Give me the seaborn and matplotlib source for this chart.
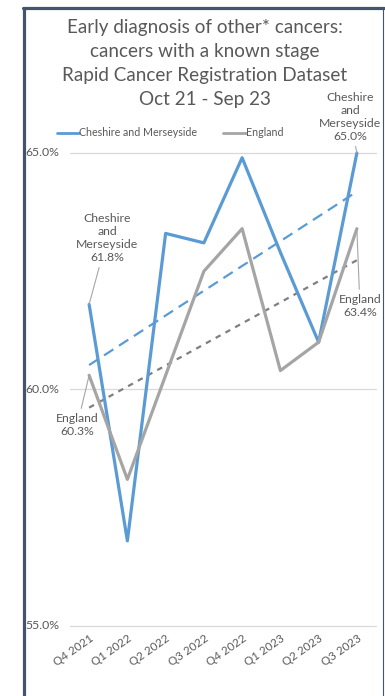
import numpy as np
import pandas as pd
import matplotlib
matplotlib.use("Agg")
import matplotlib.pyplot as plt
from matplotlib.lines import Line2D
from matplotlib import transforms
import seaborn as sns

quarters = ["Q4 2021", "Q1 2022", "Q2 2022", "Q3 2022",
            "Q4 2022", "Q1 2023", "Q2 2023", "Q3 2023"]
cheshire = [61.8, 56.8, 63.3, 63.1, 64.9, 62.9, 61.0, 65.0]
england = [60.3, 58.1, 60.3, 62.5, 63.4, 60.4, 61.0, 63.4]
y_ticks = [55.0, 60.0, 65.0]
title_lines = ["Early diagnosis of other* cancers:",
               "cancers with a known stage",
               "Rapid Cancer Registration Dataset",
               "Oct 21 - Sep 23"]

BLUE = "#5B9BD5"
GREY = "#A5A5A5"
GREY_TREND = "#7F7F7F"
TEXT = "#595959"
FONT = ["Lato", "DejaVu Sans"]

sns.set_theme(style="white")
plt.rcParams["font.family"] = FONT

df = pd.DataFrame({"idx": np.arange(len(quarters)),
                   "Cheshire and Merseyside": cheshire,
                   "England": england})

fig = plt.figure(figsize=(3.85, 6.96), dpi=100)
ax = fig.add_axes([70 / 385, 1 - 626 / 696, 306 / 385, 473 / 696])

# gridlines
for v in y_ticks:
    ax.axhline(v, color="#D9D9D9", lw=0.9, zorder=0, clip_on=False)

# linear trendlines
sns.regplot(data=df, x="idx", y="Cheshire and Merseyside", ax=ax, scatter=False,
            ci=None, color=BLUE, line_kws=dict(lw=1.6, ls=(0, (5, 3))))
sns.regplot(data=df, x="idx", y="England", ax=ax, scatter=False,
            ci=None, color=GREY_TREND, line_kws=dict(lw=1.6, ls=(0, (2.5, 2.5))))

# series
sns.lineplot(data=df, x="idx", y="Cheshire and Merseyside", ax=ax, color=BLUE,
             lw=2.3, legend=False)
sns.lineplot(data=df, x="idx", y="England", ax=ax, color=GREY, lw=2.3,
             legend=False)
for ln in ax.lines:
    ln.set_clip_on(False)

ax.set_xlim(-0.5, len(quarters) - 0.5)
ax.set_ylim(55, 65)
ax.set_xlabel("")
ax.set_ylabel("")
ax.set_xticks(range(len(quarters)))
ax.set_xticklabels(quarters, rotation=35, ha="right", rotation_mode="anchor",
                   fontsize=8.3, color=TEXT)
ax.tick_params(axis="x", length=0, pad=5)
ax.set_yticks([])
for s in ax.spines.values():
    s.set_visible(False)
ax.patch.set_alpha(0)

# y tick labels placed at the left edge of the chart frame
ylab_tr = transforms.blended_transform_factory(fig.transFigure, ax.transData)
for v in y_ticks:
    ax.text(25 / 385, v, f"{v:.1f}%", transform=ylab_tr,
            ha="left", va="center", fontsize=8.8, color=TEXT)

# data labels with leader lines
def label(txt, xy, xytext):
    ax.annotate(txt, xy=xy, xytext=xytext, textcoords="data",
                ha="center", va="center", fontsize=8.8, color=TEXT,
                linespacing=1.2, annotation_clip=False,
                arrowprops=dict(arrowstyle="-", color="#A6A6A6", lw=0.8,
                                shrinkA=1, shrinkB=0))

n = len(quarters) - 1
label(f"Cheshire\nand\nMerseyside\n{cheshire[0]:.1f}%", (0, cheshire[0]), (0.47, 63.2))
label(f"Cheshire\nand\nMerseyside\n{cheshire[n]:.1f}%", (n, cheshire[n]), (n - 0.18, 65.76))
label(f"England\n{england[0]:.1f}%", (0, england[0]), (-0.31, 59.25))
label(f"England\n{england[n]:.1f}%", (n, england[n]), (n + 0.08, 61.77))

# title, one text per line
for i, line in enumerate(title_lines):
    fig.text(205 / 385, 1 - (27 + 24 * i) / 696, line,
             ha="center", va="center", fontsize=13.6, color=TEXT)

# legend
handles = [Line2D([], [], color=BLUE, lw=2), Line2D([], [], color=GREY, lw=2)]
fig.legend(handles, ["Cheshire and Merseyside", "England"], loc="center",
           bbox_to_anchor=(170 / 385, 1 - 133 / 696), ncol=2, frameon=False,
           fontsize=7.7, handlelength=2.1, handletextpad=0.0, columnspacing=2.4,
           labelcolor=TEXT)

# chart frame
frame_color = "#44546A"
fig.add_artist(Line2D([23.5 / 385, 23.5 / 385], [0, 1 - 7.5 / 696],
                      transform=fig.transFigure, color=frame_color, lw=2.3))
fig.add_artist(Line2D([22.5 / 385, 384 / 385], [1 - 7.5 / 696, 1 - 7.5 / 696],
                      transform=fig.transFigure, color=frame_color, lw=2.3))
fig.add_artist(Line2D([383 / 385, 383 / 385], [0, 1 - 7.5 / 696],
                      transform=fig.transFigure, color=frame_color, lw=0.8))

fig.savefig("out.png", dpi=100)
